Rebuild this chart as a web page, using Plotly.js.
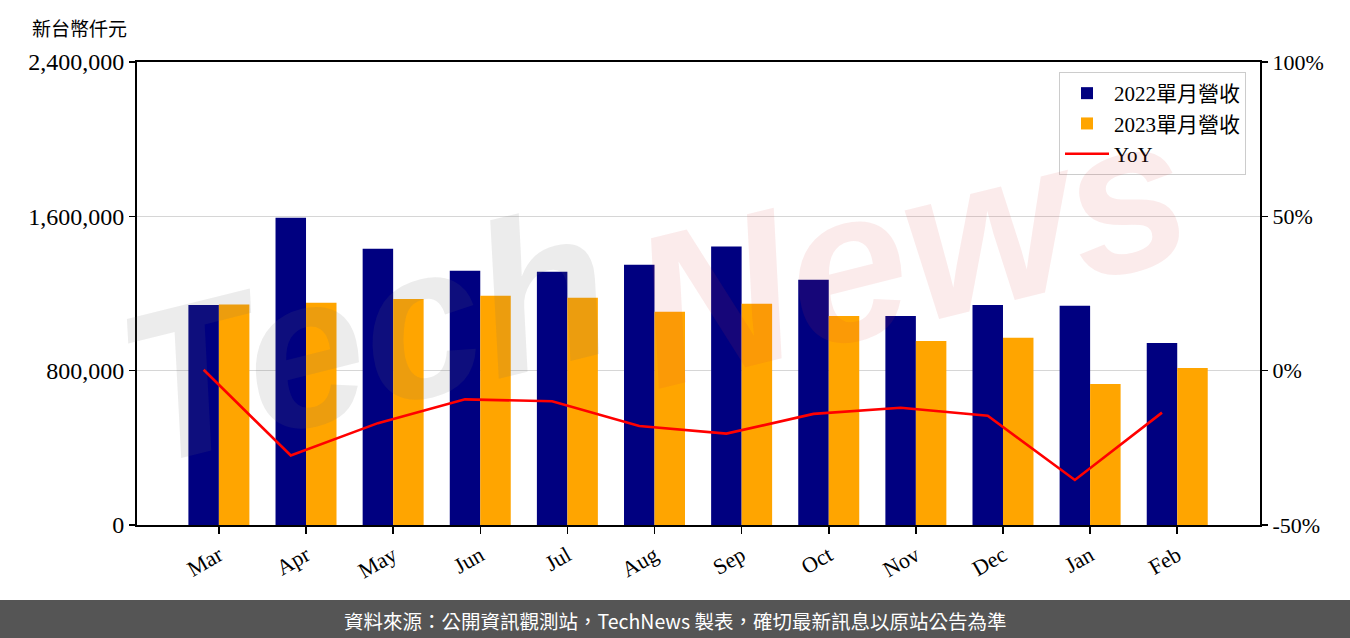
<!DOCTYPE html>
<html>
<head>
<meta charset="utf-8">
<script src="https://cdn.plot.ly/plotly-3.0.1.min.js"></script>
<style>
  html, body { margin: 0; padding: 0; background: #fff; }
  #chart { width: 1350px; height: 638px; }
</style>
</head>
<body>
<div id="chart"></div>
<script>
// ---- data ----
const months = ['Mar', 'Apr', 'May', 'Jun', 'Jul', 'Aug', 'Sep', 'Oct', 'Nov', 'Dec', 'Jan', 'Feb'];
const rev2022 = [1141000, 1593000, 1432000, 1318000, 1313000, 1349000, 1443000, 1271000, 1084000, 1141000, 1136000, 944000];
const rev2023 = [1143000, 1152000, 1172000, 1188000, 1178000, 1105000, 1147000, 1084000, 954000, 970000, 731000, 814000];
const yoyPct = [0.3, -27.5, -17.0, -9.3, -9.9, -17.9, -20.4, -14.0, -12.0, -14.6, -35.4, -13.6];
const leftTickVals = [0, 800000, 1600000, 2400000];
const leftTickText = ['0', '800,000', '1,600,000', '2,400,000'];
const rightTickVals = [-50, 0, 50, 100];
const rightTickText = ['-50%', '0%', '50%', '100%'];
const seriesNames = ['2022單月營收', '2023單月營收', 'YoY'];
const unitLabel = '新台幣仟元';
const footerText = '資料來源：公開資訊觀測站，TechNews 製表，確切最新訊息以原站公告為準';

// ---- layout geometry ----
const W = 1350, H = 638;
const L = 137, R = 90, T = 62, B = 113;
const PW = W - L - R, PH = H - T - B;
const px2x = p => (p - L) / PW;
const py2y = p => (H - B - p) / PH;

const idx = months.map((_, i) => i);
const barW = 0.35;
const lineX = idx.map(i => i - barW / 2);

const serif = '"Liberation Serif", "Noto Sans CJK TC", serif';

const traces = [
  { type: 'bar', name: seriesNames[0], x: idx, y: rev2022, marker: { color: '#000080' }, width: barW, offset: -barW },
  { type: 'bar', name: seriesNames[1], x: idx, y: rev2023, marker: { color: '#FFA500' }, width: barW, offset: 0 },
  { type: 'scatter', mode: 'lines', name: seriesNames[2], x: lineX, y: yoyPct, yaxis: 'y2',
    line: { color: '#FF0000', width: 2.6 } }
];

const layout = {
  width: W, height: H,
  margin: { l: L, r: R, t: T, b: B, pad: 0 },
  paper_bgcolor: '#ffffff', plot_bgcolor: 'rgba(0,0,0,0)',
  barmode: 'overlay',
  showlegend: true,
  font: { family: serif, color: '#000', size: 20 },
  xaxis: {
    range: [-0.94, 11.95], tickvals: idx, ticktext: months, tickangle: -30,
    showline: true, linecolor: '#000', linewidth: 2, mirror: true,
    ticks: 'outside', ticklen: 7, tickwidth: 1.5, tickcolor: '#000',
    showgrid: false, zeroline: false, tickfont: { family: serif, size: 22 }
  },
  yaxis: {
    range: [0, 2400000], tickvals: leftTickVals, ticktext: leftTickText,
    showline: true, linecolor: '#000', linewidth: 2,
    ticks: 'outside', ticklen: 6, tickwidth: 1.5, tickcolor: '#000',
    showgrid: true, gridcolor: '#d6d6d6', gridwidth: 1.5, zeroline: false,
    tickfont: { family: serif, size: 24 }
  },
  yaxis2: {
    overlaying: 'y', side: 'right', range: [-50, 100],
    tickvals: rightTickVals, ticktext: rightTickText,
    showline: true, linecolor: '#000', linewidth: 2,
    ticks: 'outside', ticklen: 6, tickwidth: 1.5, tickcolor: '#000',
    showgrid: false, zeroline: false, tickfont: { family: serif, size: 22 }
  },
  legend: {
    x: px2x(1246), xanchor: 'right', y: py2y(72), yanchor: 'top',
    bgcolor: 'rgba(255,255,255,0.85)', bordercolor: '#cccccc', borderwidth: 1,
    font: { family: serif, size: 21 }, itemwidth: 44, tracegroupgap: 0
  },
  shapes: [
    { type: 'rect', xref: 'paper', yref: 'paper',
      x0: px2x(0), x1: px2x(W), y0: py2y(H), y1: py2y(600),
      fillcolor: '#555555', line: { width: 0 }, layer: 'above' }
  ],
  annotations: [
    { text: 'Tech', xref: 'paper', yref: 'paper', x: px2x(365), y: py2y(335),
      xanchor: 'center', yanchor: 'middle', showarrow: false, textangle: -14,
      font: { family: 'Liberation Sans', size: 215, color: 'rgba(110,110,110,0.13)', weight: 700, style: 'italic' } },
    { text: 'News', xref: 'paper', yref: 'paper', x: px2x(910), y: py2y(250),
      xanchor: 'center', yanchor: 'middle', showarrow: false, textangle: -14,
      font: { family: 'Liberation Sans', size: 215, color: 'rgba(215,60,60,0.10)', weight: 700, style: 'italic' } },
    { text: unitLabel, xref: 'paper', yref: 'paper', x: px2x(30), y: py2y(27),
      xanchor: 'left', yanchor: 'middle', showarrow: false,
      font: { family: '"Noto Sans CJK TC", serif', size: 19, color: '#000' } },
    { text: footerText, xref: 'paper', yref: 'paper', x: px2x(675), y: py2y(620),
      xanchor: 'center', yanchor: 'middle', showarrow: false,
      font: { family: '"Noto Sans CJK TC", "Noto Sans", sans-serif', size: 19.5, color: '#ffffff' } }
  ]
};

Plotly.newPlot('chart', traces, layout, { displayModeBar: false, staticPlot: true });
</script>
</body>
</html>
